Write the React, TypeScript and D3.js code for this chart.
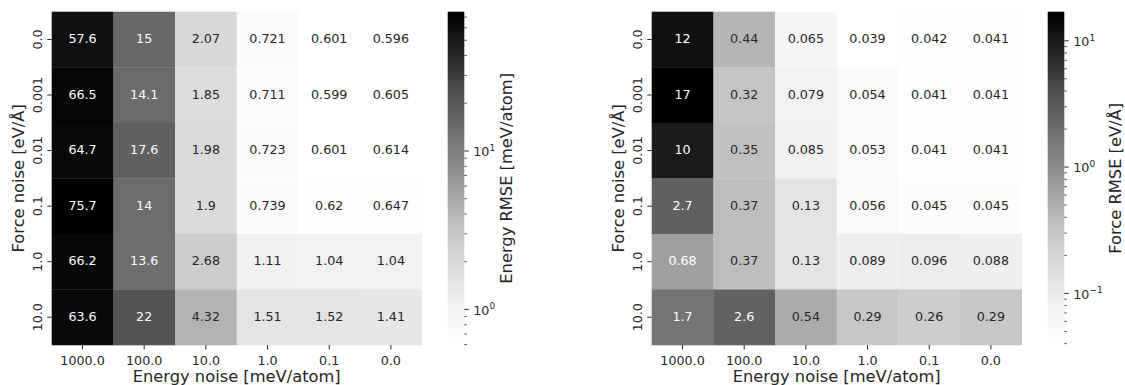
import React from "react";
import * as d3 from "d3";

const energyNoise = ["1000.0", "100.0", "10.0", "1.0", "0.1", "0.0"];
const forceNoise = ["0.0", "0.001", "0.01", "0.1", "1.0", "10.0"];

const energyRMSE = [
  [57.6, 15, 2.07, 0.721, 0.601, 0.596],
  [66.5, 14.1, 1.85, 0.711, 0.599, 0.605],
  [64.7, 17.6, 1.98, 0.723, 0.601, 0.614],
  [75.7, 14, 1.9, 0.739, 0.62, 0.647],
  [66.2, 13.6, 2.68, 1.11, 1.04, 1.04],
  [63.6, 22, 4.32, 1.51, 1.52, 1.41],
];

const forceRMSE = [
  [12, 0.44, 0.065, 0.039, 0.042, 0.041],
  [17, 0.32, 0.079, 0.054, 0.041, 0.041],
  [10, 0.35, 0.085, 0.053, 0.041, 0.041],
  [2.7, 0.37, 0.13, 0.056, 0.045, 0.045],
  [0.68, 0.37, 0.13, 0.089, 0.096, 0.088],
  [1.7, 2.6, 0.54, 0.29, 0.26, 0.29],
];

const greys = ["#ffffff", "#f0f0f0", "#d9d9d9", "#bdbdbd", "#969696", "#737373", "#525252", "#252525", "#000000"];
const greyLevels = greys.map((c) => d3.rgb(c).r / 255);
const grayAt = d3
  .scaleLinear()
  .domain(greys.map((_, i) => i / (greys.length - 1)))
  .range(greyLevels)
  .clamp(true);
const LUT = d3.range(256).map((i) => grayAt(i / 255));
const levelAt = (x: number) => LUT[Math.max(0, Math.min(255, Math.floor(x * 256)))];
const toColor = (g: number) => {
  const v = Math.round(g * 255);
  return `rgb(${v},${v},${v})`;
};

const FONT = "DejaVu Sans, sans-serif";
const TXT = "#262626";
const TICK_FS = 12.7;
const LABEL_FS = 16.3;

function relLumGray(s: number) {
  const lin = s <= 0.03928 ? s / 12.92 : Math.pow((s + 0.055) / 1.055, 2.4);
  return lin; // gray: 0.2126+0.7152+0.0722 = 1
}

const SUP: Record<string, string> = { "-": "\u2212" };

function Heatmap(props: {
  data: number[][];
  x0: number;
  fmt: string;
  cbX: number;
  cbLabel: string;
  cbLabelX: number;
  id: string;
}) {
  const { data, x0, fmt, cbX, cbLabel, cbLabelX, id } = props;
  const y0 = 11.7;
  const w = 370;
  const h = 333.3;
  const xs = d3.scaleBand().domain(energyNoise).range([x0, x0 + w]);
  const ys = d3.scaleBand().domain(forceNoise).range([y0, y0 + h]);
  const flat = data.flat();
  const [vmin, vmax] = d3.extent(flat) as [number, number];
  const norm = d3.scaleLog().domain([vmin, vmax]).range([0, 1]);
  const cbScale = d3.scaleLog().domain([vmin, vmax]).range([y0 + h, y0]);
  const format = d3.format(fmt);
  const cbW = 16.6;
  const allTicks = cbScale.ticks();
  const isMajor = (t: number) => Math.abs(Math.log10(t) - Math.round(Math.log10(t))) < 1e-9;
  const stops = d3.range(0, 41).map((i) => i / 40);
  const tickLen = 4.4;
  const pad = 4.4;

  return (
    <g>
      <defs>
        <linearGradient id={id} x1="0" y1="1" x2="0" y2="0">
          {stops.map((t) => (
            <stop key={t} offset={t} stopColor={toColor(grayAt(t))} />
          ))}
        </linearGradient>
      </defs>
      {data.map((row, i) =>
        row.map((v, j) => {
          const g = levelAt(norm(v));
          return (
            <rect
              key={`${i}-${j}`}
              x={xs(energyNoise[j])!}
              y={ys(forceNoise[i])!}
              width={xs.bandwidth() + 0.3}
              height={ys.bandwidth() + 0.3}
              fill={toColor(g)}
            />
          );
        })
      )}
      {data.map((row, i) =>
        row.map((v, j) => {
          const g = levelAt(norm(v));
          const tc = relLumGray(g) > 0.408 ? TXT : "#ffffff";
          return (
            <text
              key={`t${i}-${j}`}
              x={xs(energyNoise[j])! + xs.bandwidth() / 2}
              y={ys(forceNoise[i])! + ys.bandwidth() / 2 + 3.8}
              textAnchor="middle"
              fontFamily={FONT}
              fontSize={TICK_FS}
              fill={tc}
            >
              {format(v)}
            </text>
          );
        })
      )}
      {/* x ticks */}
      {energyNoise.map((e) => {
        const cx = xs(e)! + xs.bandwidth() / 2;
        return (
          <g key={e}>
            <line x1={cx} x2={cx} y1={y0 + h} y2={y0 + h + tickLen} stroke={TXT} strokeWidth={1} />
            <text x={cx} y={364.5} textAnchor="middle" fontFamily={FONT} fontSize={TICK_FS} fill={TXT}>
              {e}
            </text>
          </g>
        );
      })}
      {/* y ticks */}
      {forceNoise.map((f) => {
        const cy = ys(f)! + ys.bandwidth() / 2;
        const tx = x0 - tickLen - pad - 0.5;
        return (
          <g key={f}>
            <line x1={x0 - tickLen} x2={x0} y1={cy} y2={cy} stroke={TXT} strokeWidth={1} />
            <text
              x={tx}
              y={cy}
              transform={`rotate(-90 ${tx} ${cy})`}
              textAnchor="middle"
              fontFamily={FONT}
              fontSize={TICK_FS}
              fill={TXT}
            >
              {f}
            </text>
          </g>
        );
      })}
      <text x={x0 + w / 2} y={381.8} textAnchor="middle" fontFamily={FONT} fontSize={LABEL_FS} fill={TXT}>
        Energy noise [meV/atom]
      </text>
      <text
        x={x0 - 27.7}
        y={y0 + h / 2}
        transform={`rotate(-90 ${x0 - 27.7} ${y0 + h / 2})`}
        textAnchor="middle"
        fontFamily={FONT}
        fontSize={LABEL_FS}
        fill={TXT}
      >
        Force noise [eV/Å]
      </text>
      {/* colorbar */}
      <rect x={cbX} y={y0} width={cbW} height={h} fill={`url(#${id})`} />
      {allTicks.map((t, k) => {
        const ty = cbScale(t);
        const major = isMajor(t);
        const exp = Math.round(Math.log10(t));
        const expStr = String(exp)
          .split("")
          .map((ch) => SUP[ch] || ch)
          .join("");
        return (
          <g key={k}>
            <line
              x1={cbX + cbW}
              x2={cbX + cbW + (major ? tickLen : 2.5)}
              y1={ty}
              y2={ty}
              stroke={TXT}
              strokeWidth={major ? 1 : 0.8}
            />
            {major && (
              <text x={cbX + cbW + tickLen + 4.6} y={ty + 5.3} fontFamily={FONT} fontSize={TICK_FS} fill={TXT}>
                10
                <tspan fontSize={9} dy={-5.2}>
                  {expStr}
                </tspan>
              </text>
            )}
          </g>
        );
      })}
      <text
        x={cbLabelX}
        y={y0 + h / 2}
        transform={`rotate(-90 ${cbLabelX} ${y0 + h / 2})`}
        textAnchor="middle"
        fontFamily={FONT}
        fontSize={LABEL_FS}
        fill={TXT}
      >
        {cbLabel}
      </text>
    </g>
  );
}

export default function App() {
  return (
    <svg
      width={1125}
      height={385}
      style={{ position: "absolute", left: 0, top: 0, background: "#ffffff" }}
      xmlns="http://www.w3.org/2000/svg"
    >
      <rect x={0} y={0} width={1125} height={385} fill="#ffffff" />
      <Heatmap
        data={energyRMSE}
        x0={51.7}
        fmt=".3~g"
        cbX={447.7}
        cbLabel="Energy RMSE [meV/atom]"
        cbLabelX={512.5}
        id="gradE"
      />
      <Heatmap
        data={forceRMSE}
        x0={651.7}
        fmt=".2~g"
        cbX={1047.7}
        cbLabel="Force RMSE [eV/Å]"
        cbLabelX={1121}
        id="gradF"
      />
    </svg>
  );
}
